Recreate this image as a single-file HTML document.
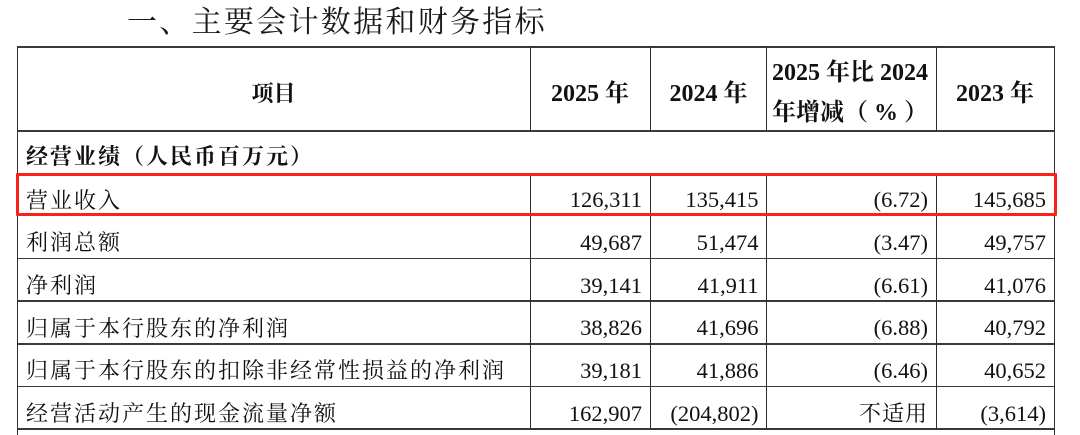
<!DOCTYPE html>
<html>
<head>
<meta charset="utf-8">
<style>
  html, body { margin:0; padding:0; background:#fff; }
  body { width:1080px; height:435px; position:relative; overflow:hidden; }
  .t { position:absolute; white-space:nowrap; line-height:1; color:#111;
       font-family:"Liberation Serif","Noto Serif CJK SC",serif; }
  .h { position:absolute; background:#3a3a3a; height:1.6px; }
  .v { position:absolute; background:#2e2e2e; width:1.4px; }
  .num { font-size:22.5px; text-align:right; }
  .lbl { font-size:22px; letter-spacing:2px; }
  .hd { font-size:24px; font-weight:700; }
</style>
</head>
<body>

<!-- Title -->
<div class="t" style="left:127px; top:8px; font-size:30px; letter-spacing:2.3px; color:#1a1a1a;">一、主要会计数据和财务指标</div>

<!-- Horizontal lines -->
<div class="h" style="left:17px; width:1038px; top:46px;"></div>
<div class="h" style="left:17px; width:1038px; top:130px;"></div>
<div class="h" style="left:17px; width:1038px; top:172.5px;"></div>
<div class="h" style="left:17px; width:1038px; top:214.8px;"></div>
<div class="h" style="left:17px; width:1038px; top:257.5px;"></div>
<div class="h" style="left:17px; width:1038px; top:300.2px;"></div>
<div class="h" style="left:17px; width:1038px; top:343px;"></div>
<div class="h" style="left:17px; width:1038px; top:385.8px;"></div>
<div class="h" style="left:17px; width:1038px; top:428.3px;"></div>

<!-- Vertical lines: outer -->
<div class="v" style="left:17px; top:46px; height:389px;"></div>
<div class="v" style="left:1053.5px; top:46px; height:389px;"></div>
<!-- inner verticals header -->
<div class="v" style="left:529.5px; top:46px; height:85px;"></div>
<div class="v" style="left:649.5px; top:46px; height:85px;"></div>
<div class="v" style="left:766px; top:46px; height:85px;"></div>
<div class="v" style="left:935.5px; top:46px; height:85px;"></div>
<!-- inner verticals body -->
<div class="v" style="left:529.5px; top:173px; height:256.5px;"></div>
<div class="v" style="left:649.5px; top:173px; height:256.5px;"></div>
<div class="v" style="left:766px; top:173px; height:256.5px;"></div>
<div class="v" style="left:935.5px; top:173px; height:256.5px;"></div>

<!-- Header texts -->
<div class="t" style="left:17px; width:513px; text-align:center; top:83px; font-size:22px; font-weight:700;">项目</div>
<div class="t hd" style="left:530px; width:120px; text-align:center; top:81.6px;">2025 年</div>
<div class="t hd" style="left:650px; width:117px; text-align:center; top:81.6px;">2024 年</div>
<div class="t hd" style="left:772px; top:60.9px;">2025 年比 2024</div>
<div class="t hd" style="left:772px; top:101.4px;">年增减（ % ）</div>
<div class="t hd" style="left:936px; width:118px; text-align:center; top:81.6px;">2023 年</div>

<!-- Section row -->
<div class="t lbl" style="left:26px; top:146px; font-weight:700;">经营业绩（人民币百万元）</div>

<!-- Row 1: 营业收入 -->
<div class="t lbl" style="left:26px; top:189.5px;">营业收入</div>
<div class="t num" style="right:438px; top:189.2px;">126,311</div>
<div class="t num" style="right:321.5px; top:189.2px;">135,415</div>
<div class="t num" style="right:152px; top:189.2px;">(6.72)</div>
<div class="t num" style="right:34px; top:189.2px;">145,685</div>

<!-- Row 2: 利润总额 -->
<div class="t lbl" style="left:26px; top:232px;">利润总额</div>
<div class="t num" style="right:438px; top:231.7px;">49,687</div>
<div class="t num" style="right:321.5px; top:231.7px;">51,474</div>
<div class="t num" style="right:152px; top:231.7px;">(3.47)</div>
<div class="t num" style="right:34px; top:231.7px;">49,757</div>

<!-- Row 3: 净利润 -->
<div class="t lbl" style="left:26px; top:274.8px;">净利润</div>
<div class="t num" style="right:438px; top:274.5px;">39,141</div>
<div class="t num" style="right:321.5px; top:274.5px;">41,911</div>
<div class="t num" style="right:152px; top:274.5px;">(6.61)</div>
<div class="t num" style="right:34px; top:274.5px;">41,076</div>

<!-- Row 4 -->
<div class="t lbl" style="left:26px; top:317.5px;">归属于本行股东的净利润</div>
<div class="t num" style="right:438px; top:317.2px;">38,826</div>
<div class="t num" style="right:321.5px; top:317.2px;">41,696</div>
<div class="t num" style="right:152px; top:317.2px;">(6.88)</div>
<div class="t num" style="right:34px; top:317.2px;">40,792</div>

<!-- Row 5 -->
<div class="t lbl" style="left:26px; top:360.3px;">归属于本行股东的扣除非经常性损益的净利润</div>
<div class="t num" style="right:438px; top:360px;">39,181</div>
<div class="t num" style="right:321.5px; top:360px;">41,886</div>
<div class="t num" style="right:152px; top:360px;">(6.46)</div>
<div class="t num" style="right:34px; top:360px;">40,652</div>

<!-- Row 6 -->
<div class="t lbl" style="left:26px; top:403px;">经营活动产生的现金流量净额</div>
<div class="t num" style="right:438px; top:402.7px;">162,907</div>
<div class="t num" style="right:321.5px; top:402.7px;">(204,802)</div>
<div class="t lbl" style="right:152px; top:403px; letter-spacing:1px;">不适用</div>
<div class="t num" style="right:34px; top:402.7px;">(3,614)</div>

<!-- Red highlight box -->
<div style="position:absolute; left:16px; top:172.5px; width:1034.5px; height:37.5px; border:3px solid #f5231b; border-radius:1px;"></div>

</body>
</html>
